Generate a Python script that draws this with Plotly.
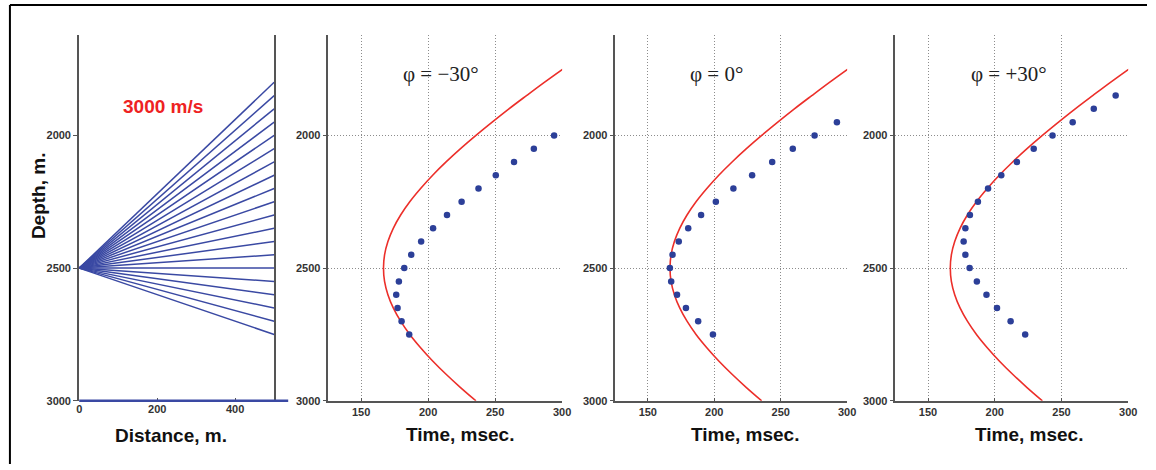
import plotly.graph_objects as go

# ---------------- data ----------------
source_depth = 2500
ray_offset = 500
ray_end_depths = [1800, 1850, 1900, 1950, 2000, 2050, 2100, 2150, 2200, 2250,
                  2300, 2350, 2400, 2450, 2500, 2550, 2600, 2650, 2700, 2750]

curve_depth = [1750, 1800, 1850, 1900, 1950, 2000, 2050, 2100, 2150, 2200, 2250,
               2300, 2350, 2400, 2450, 2500, 2550, 2600, 2650, 2700, 2750,
               2800, 2850, 2900, 2950, 3000]
curve_time = [300.5, 286.7, 273.4, 260.3, 247.8, 235.7, 224.2, 213.4, 203.4, 194.4,
              186.3, 179.5, 174.0, 170.0, 167.5, 166.7, 167.5, 170.0, 174.0, 179.5,
              186.3, 194.4, 203.4, 213.4, 224.2, 235.7]

m30_depth = [2000, 2050, 2100, 2150, 2200, 2250, 2300, 2350, 2400, 2450,
             2500, 2550, 2600, 2650, 2700, 2750]
m30_time = [294.0, 278.9, 264.1, 250.5, 237.6, 225.0, 214.1, 203.7, 194.8, 187.4,
            182.2, 178.2, 176.2, 177.2, 180.2, 185.9]

z0_depth = [1950, 2000, 2050, 2100, 2150, 2200, 2250, 2300, 2350, 2400, 2450,
            2500, 2550, 2600, 2650, 2700, 2750]
z0_time = [292.3, 275.5, 259.1, 243.6, 228.5, 214.4, 201.2, 190.1, 180.4, 173.3, 168.6,
           166.6, 167.6, 172.0, 178.7, 187.9, 199.0]

p30_depth = [1850, 1900, 1950, 2000, 2050, 2100, 2150, 2200, 2250, 2300, 2350,
             2400, 2450, 2500, 2550, 2600, 2650, 2700, 2750]
p30_time = [290.6, 274.2, 258.4, 243.3, 229.2, 216.6, 204.9, 195.0, 187.4, 181.4, 178.0,
            176.7, 178.0, 181.2, 186.6, 193.8, 201.7, 211.9, 222.8]

panel_titles = ["φ = −30°", "φ = 0°", "φ = +30°"]
depth_ticks = [2000, 2500, 3000]
time_ticks = [150, 200, 250, 300]
dist_ticks = [0, 200, 400]
velocity_label = "3000 m/s"

# ---------------- styling ----------------
W, H = 1156, 470
RAY_BLUE = "#3a49a3"
DOT_BLUE = "#2c3f98"
RED = "#ec2f2a"
AXIS = "#555555"
GRID = "#8c8c8c"
GRIDDASH = "1.5px,1.5px"
TICKFONT = dict(family="Liberation Sans, Arial", size=11, color="#333333", weight="bold")

def px_x(p):
    return p / W

def px_y(p):
    return (H - p) / H

ydom = [px_y(406), px_y(35)]
xdoms = [[px_x(77), px_x(274)], [px_x(328), px_x(565)],
         [px_x(618), px_x(853)], [px_x(901), px_x(1137)]]

fig = go.Figure()

# panel 1: rays
rx, ry = [], []
for d in ray_end_depths:
    rx += [0, ray_offset, None]
    ry += [source_depth, d, None]
fig.add_trace(go.Scatter(x=rx, y=ry, mode="lines", line=dict(color=RAY_BLUE, width=1.5),
                         xaxis="x", yaxis="y", hoverinfo="skip", showlegend=False))

panels = [(m30_time, m30_depth), (z0_time, z0_depth), (p30_time, p30_depth)]
for i, (t, d) in enumerate(panels):
    ax = str(i + 2)
    fig.add_trace(go.Scatter(x=curve_time, y=curve_depth, mode="lines",
                             line=dict(color=RED, width=1.6, shape="spline"),
                             xaxis="x" + ax, yaxis="y" + ax, showlegend=False))
    fig.add_trace(go.Scatter(x=t, y=d, mode="markers",
                             marker=dict(color=DOT_BLUE, size=6.5),
                             xaxis="x" + ax, yaxis="y" + ax, showlegend=False))

layout = dict(width=W, height=H, margin=dict(l=0, r=0, t=0, b=0),
              paper_bgcolor="white", plot_bgcolor="white", showlegend=False)

# panel 1 axes
layout["xaxis"] = dict(domain=xdoms[0], range=[0, 500], anchor="y",
                       tickvals=dist_ticks, ticks="inside", ticklen=3, tickcolor=AXIS,
                       showgrid=False, zeroline=False, showline=False,
                       tickfont=TICKFONT)
layout["yaxis"] = dict(domain=ydom, range=[3000, 1620], anchor="x",
                       tickvals=depth_ticks, ticks="outside", ticklen=4, tickcolor=AXIS,
                       showgrid=False, zeroline=False, showline=True, linecolor=AXIS,
                       linewidth=2, mirror=True, tickfont=TICKFONT)
for i in range(3):
    n = str(i + 2)
    layout["xaxis" + n] = dict(domain=xdoms[i + 1], range=[125, 300], anchor="y" + n,
                               tickvals=time_ticks, ticks="inside", ticklen=3,
                               tickcolor=AXIS, showgrid=True, gridcolor=GRID,
                               griddash=GRIDDASH, gridwidth=1, zeroline=False,
                               showline=True, linecolor=AXIS, linewidth=2,
                               tickfont=TICKFONT)
    layout["yaxis" + n] = dict(domain=ydom, range=[3000, 1620], anchor="x" + n,
                               tickvals=depth_ticks, ticks="outside", ticklen=3,
                               tickcolor=AXIS, showgrid=True,
                               gridcolor=GRID, griddash=GRIDDASH, gridwidth=1,
                               zeroline=False, showline=True, linecolor=AXIS,
                               linewidth=2, tickfont=TICKFONT)
fig.update_layout(**layout)

# bottom blue line of panel 1 (extends past the frame)
fig.add_shape(type="line", xref="x domain", yref="y domain", x0=0, x1=1.072, y0=0, y1=0,
              line=dict(color=RAY_BLUE, width=2.5))
# outer frame (top and left)
fig.add_shape(type="line", xref="paper", yref="paper", x0=px_x(7), x1=1, y0=px_y(5), y1=px_y(5),
              line=dict(color="black", width=2))
fig.add_shape(type="line", xref="paper", yref="paper", x0=px_x(7), x1=px_x(7), y0=0, y1=px_y(5),
              line=dict(color="black", width=2))

BOLD = dict(family="Liberation Sans, Arial", size=19, color="#111111")
ann = []
ann.append(dict(text="<b>" + velocity_label + "</b>", x=px_x(162), y=px_y(108),
                font=dict(family="Liberation Sans, Arial", size=19, color="#ee2222")))
ann.append(dict(text="<b>Depth, m.</b>", x=px_x(36), y=px_y(198), textangle=-90, font=BOLD))
ann.append(dict(text="<b>Distance, m.</b>", x=px_x(170), y=px_y(441), font=BOLD))
for cx in (462, 750, 1037):
    ann.append(dict(text="<b>Time, msec.</b>", x=px_x(cx), y=px_y(440), font=BOLD))
for cx, t in zip((443, 721, 1017), panel_titles):
    ann.append(dict(text=t, x=px_x(cx), y=px_y(75),
                    font=dict(family="Liberation Serif, Times New Roman", size=21, color="#222222")))
for a in ann:
    a.update(xref="paper", yref="paper", showarrow=False, xanchor="center", yanchor="middle")
fig.update_layout(annotations=ann)

fig.write_html("out.html", config={"displayModeBar": False},
               post_script="document.body.style.margin='0';document.body.style.overflow='hidden';")
